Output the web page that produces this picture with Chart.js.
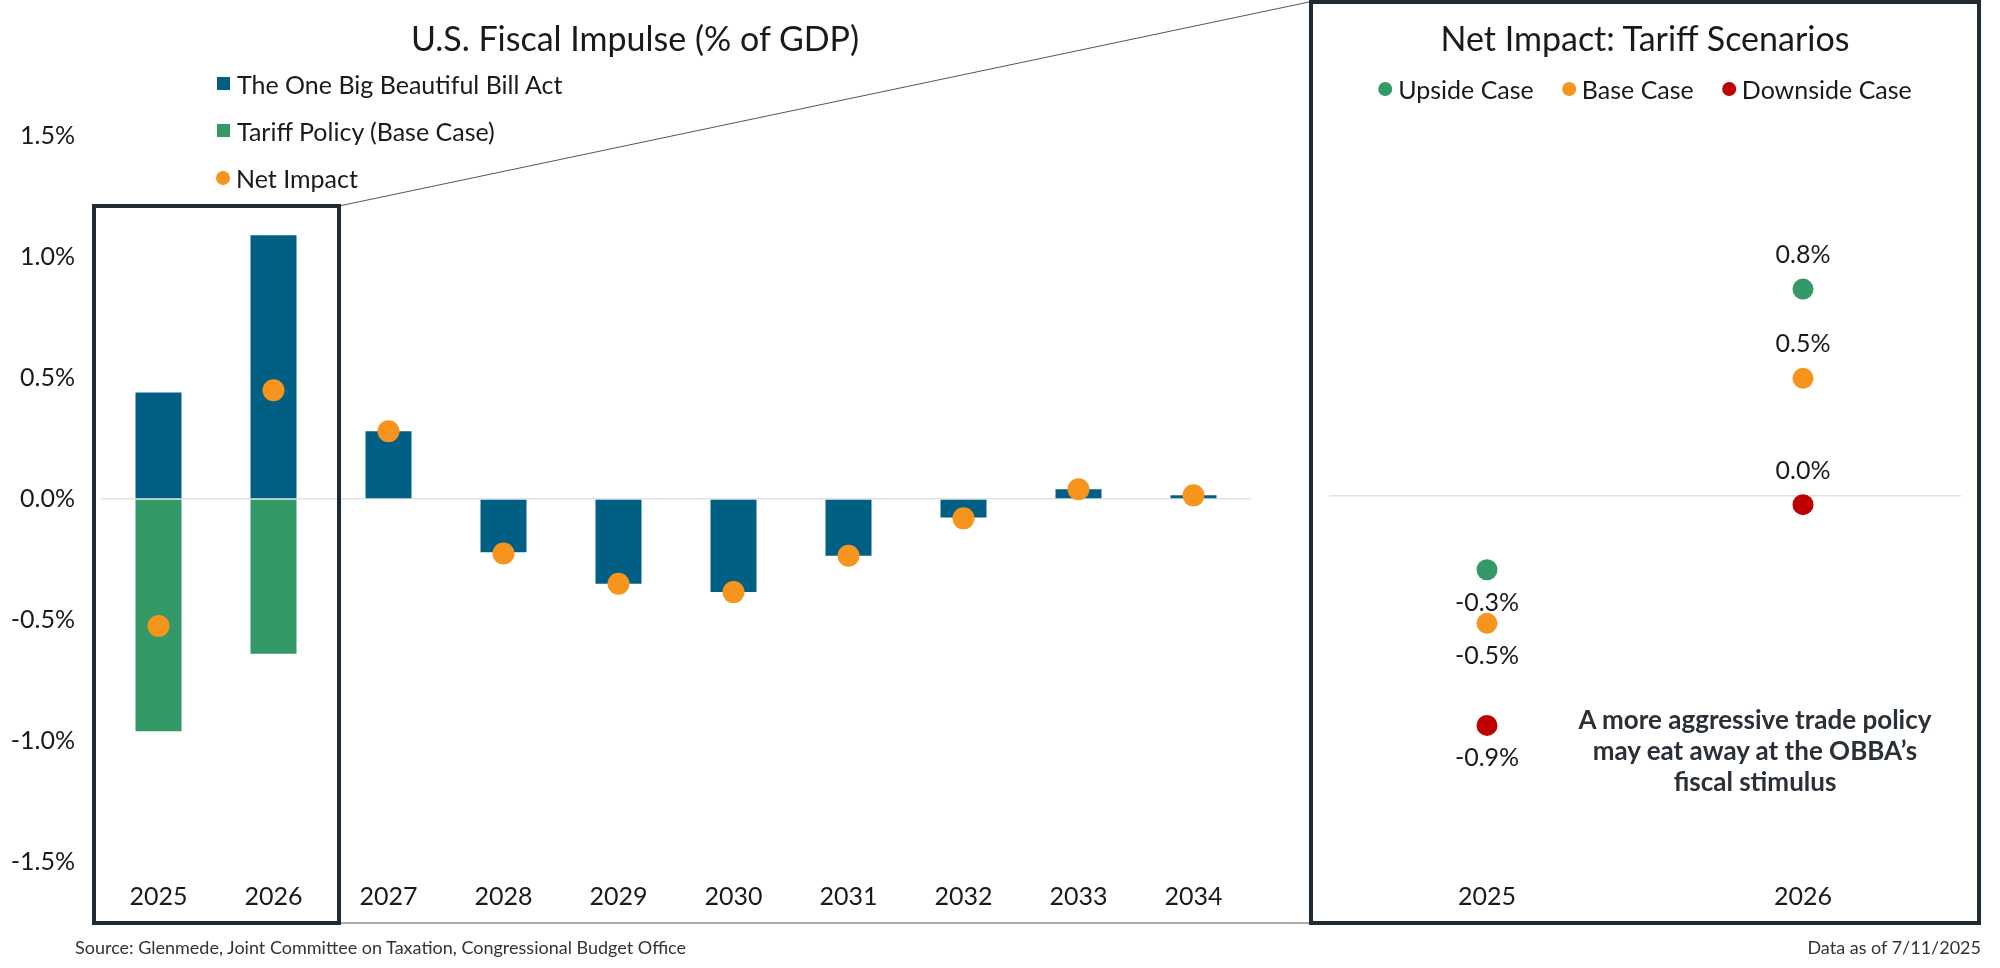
<!DOCTYPE html>
<html>
<head>
<meta charset="utf-8">
<script src="https://cdn.jsdelivr.net/npm/chart.js@4"></script>
<style>
  body { margin: 0; background: #fff; font-family: Lato, "Noto Sans", sans-serif; color: #1a1a1a; }
  #page { position: relative; width: 2000px; height: 968px; overflow: hidden; }
  canvas { position: absolute; top: 0; }
  .abs { position: absolute; white-space: nowrap; }
  .title { font-size: 34px; transform: translate(-50%, -50%); }
  .leftLegend div { font-size: 25px; height: 47px; display: flex; align-items: center; }
  .sq { width: 13px; height: 13px; margin-right: 7px; display: inline-block; }
  .dot { width: 14px; height: 14px; border-radius: 50%; margin-right: 6px; display: inline-block; }
  #frame { position: absolute; left: 1309px; top: 0; width: 672px; height: 925px; border: 4px solid #1f2a33; box-sizing: border-box; }
  .rightLegend { font-size: 25px; display: flex; align-items: center; transform: translate(-50%, -50%); }
  .rightLegend span.item { display: flex; align-items: center; margin: 0 14px; }
  .note { font-size: 26px; font-weight: bold; text-align: center; line-height: 31px; color: #2a3038; transform: translateX(-50%); }
  .small { font-size: 18px; color: #333; }
</style>
</head>
<body>
<div id="page">
  <canvas id="left" width="2000" height="968" style="left:0;width:2000px;height:968px"></canvas>
  <div id="frame"></div>
  <canvas id="right" width="672" height="968" style="left:1309px;width:672px;height:968px"></canvas>

  <div class="abs title" style="left:635px;top:37px">U.S. Fiscal Impulse (% of GDP)</div>
  <div class="abs leftLegend" style="left:217px;top:60px">
    <div><span class="sq" style="background:#005f83"></span>The One Big Beautiful Bill Act</div>
    <div><span class="sq" style="background:#339966"></span>Tariff Policy (Base Case)</div>
    <div><span class="dot" style="background:#f7941d;margin-left:-1px"></span>Net Impact</div>
  </div>

  <div class="abs title" style="left:1645px;top:37px">Net Impact: Tariff Scenarios</div>
  <div class="abs rightLegend" style="left:1645px;top:89px">
    <span class="item"><span class="dot" style="background:#339966"></span>Upside Case</span>
    <span class="item"><span class="dot" style="background:#f7941d"></span>Base Case</span>
    <span class="item"><span class="dot" style="background:#c00000"></span>Downside Case</span>
  </div>
  <div class="abs note" style="left:1755px;top:704px">A more aggressive trade policy<br>may eat away at the OBBA’s<br>fiscal stimulus</div>

  <div class="abs small" style="left:75px;top:936px">Source: Glenmede, Joint Committee on Taxation, Congressional Budget Office</div>
  <div class="abs small" style="right:19px;top:936px">Data as of 7/11/2025</div>
</div>

<script>
const years = ['2025', '2026', '2027', '2028', '2029', '2030', '2031', '2032', '2033', '2034'];
const obbbaValues = [0.44, 1.09, 0.28, -0.22, -0.35, -0.385, -0.235, -0.077, 0.04, 0.015];
const tariffValues = [-0.96, -0.64, null, null, null, null, null, null, null, null];
const netValues = [-0.525, 0.45, 0.28, -0.225, -0.35, -0.385, -0.235, -0.08, 0.04, 0.015];
const leftTicks = [-1.5, -1.0, -0.5, 0.0, 0.5, 1.0, 1.5];

const scenarioYears = ['2025', '2026'];
const upsideValues = [-0.29, 0.81];
const baseValues = [-0.5, 0.46];
const downsideValues = [-0.9, -0.035];

const BLUE = '#005f83';
const GREEN = '#339966';
const ORANGE = '#f7941d';
const RED = '#c00000';
const FONT = 'Lato, "Noto Sans", sans-serif';

Chart.defaults.font.family = FONT;
Chart.defaults.color = '#1a1a1a';

// Zoom box around 2025-2026 plus the connecting lines to the right panel
const zoomBoxPlugin = {
  id: 'zoomBox',
  afterDraw(chart) {
    const { ctx, scales: { x } } = chart;
    const half = (x.getPixelForValue(1) - x.getPixelForValue(0)) / 2;
    const left = x.getPixelForValue(0) - half - 7;
    const right = x.getPixelForValue(1) + half + 8;
    const top = 206, bottom = 923, frameLeft = 1309;
    ctx.save();
    ctx.strokeStyle = '#555';
    ctx.lineWidth = 1;
    ctx.beginPath();
    ctx.moveTo(right, top);
    ctx.lineTo(frameLeft, 2);
    ctx.moveTo(right, bottom);
    ctx.lineTo(frameLeft, bottom);
    ctx.stroke();
    ctx.strokeStyle = '#1f2a33';
    ctx.lineWidth = 4;
    ctx.strokeRect(left, top, right - left, bottom - top);
    ctx.restore();
  }
};

new Chart(document.getElementById('left'), {
  type: 'bar',
  data: {
    labels: years,
    datasets: [
      { type: 'line', label: 'Net Impact', data: netValues, showLine: false, pointRadius: 11, pointHoverRadius: 11,
        backgroundColor: ORANGE, borderColor: ORANGE, borderWidth: 0, order: 0 },
      { label: 'The One Big Beautiful Bill Act', data: obbbaValues, backgroundColor: BLUE, stack: 's', order: 1 },
      { label: 'Tariff Policy (Base Case)', data: tariffValues, backgroundColor: GREEN, stack: 's', order: 1 }
    ]
  },
  options: {
    responsive: false,
    animation: false,
    layout: { padding: { top: 112, right: 749, left: 0, bottom: 0 } },
    plugins: { legend: { display: false }, tooltip: { enabled: false } },
    datasets: { bar: { barPercentage: 0.4, categoryPercentage: 1 } },
    scales: {
      x: {
        stacked: true,
        grid: { display: false },
        border: { display: false },
        ticks: { font: { size: 25 }, padding: -12, color: '#1a1a1a' },
        afterFit(scale) { scale.height = 82; }
      },
      y: {
        stacked: true,
        min: -1.6,
        max: 1.6,
        afterBuildTicks(axis) { axis.ticks = leftTicks.map(v => ({ value: v })); },
        afterFit(scale) { scale.width = 101; },
        grid: { drawTicks: false, color: c => c.tick && c.tick.value === 0 ? '#dde2e6' : 'transparent', lineWidth: 1.5 },
        border: { display: false },
        ticks: { font: { size: 25 }, padding: 26, color: '#1a1a1a', callback: v => v.toFixed(1) + '%' }
      }
    }
  },
  plugins: [zoomBoxPlugin]
});

// Value labels: above the points for 2026, below for 2025
const pointLabelPlugin = {
  id: 'pointLabels',
  afterDatasetsDraw(chart) {
    const { ctx } = chart;
    ctx.save();
    ctx.font = '25px ' + FONT;
    ctx.fillStyle = '#1a1a1a';
    ctx.textAlign = 'center';
    ctx.textBaseline = 'middle';
    chart.data.datasets.forEach((ds, i) => {
      chart.getDatasetMeta(i).data.forEach((pt, j) => {
        const v = ds.data[j];
        const txt = (Math.abs(v) < 0.05 ? '0.0' : v.toFixed(1)) + '%';
        const dy = j === 0 ? 33 : -34;
        ctx.fillText(txt, pt.x, pt.y + dy);
      });
    });
    ctx.restore();
  }
};

new Chart(document.getElementById('right'), {
  type: 'line',
  data: {
    labels: scenarioYears,
    datasets: [
      { label: 'Upside Case', data: upsideValues, backgroundColor: GREEN, borderColor: GREEN },
      { label: 'Base Case', data: baseValues, backgroundColor: ORANGE, borderColor: ORANGE },
      { label: 'Downside Case', data: downsideValues, backgroundColor: RED, borderColor: RED }
    ]
  },
  options: {
    responsive: false,
    animation: false,
    layout: { padding: { top: 113, right: 20, left: 20, bottom: 0 } },
    plugins: { legend: { display: false }, tooltip: { enabled: false } },
    elements: { point: { radius: 10.5, hoverRadius: 10.5, borderWidth: 0 } },
    datasets: { line: { showLine: false } },
    scales: {
      x: {
        offset: true,
        grid: { display: false },
        border: { display: false },
        ticks: { font: { size: 25 }, padding: -5, color: '#1a1a1a' },
        afterFit(scale) { scale.height = 89.5; }
      },
      y: {
        min: -1.5,
        max: 1.5,
        afterBuildTicks(axis) { axis.ticks = [{ value: 0 }]; },
        afterFit(scale) { scale.width = 0; },
        grid: { drawTicks: false, color: '#dde2e6', lineWidth: 1.5 },
        border: { display: false },
        ticks: { display: false }
      }
    }
  },
  plugins: [pointLabelPlugin]
});
</script>
</body>
</html>
